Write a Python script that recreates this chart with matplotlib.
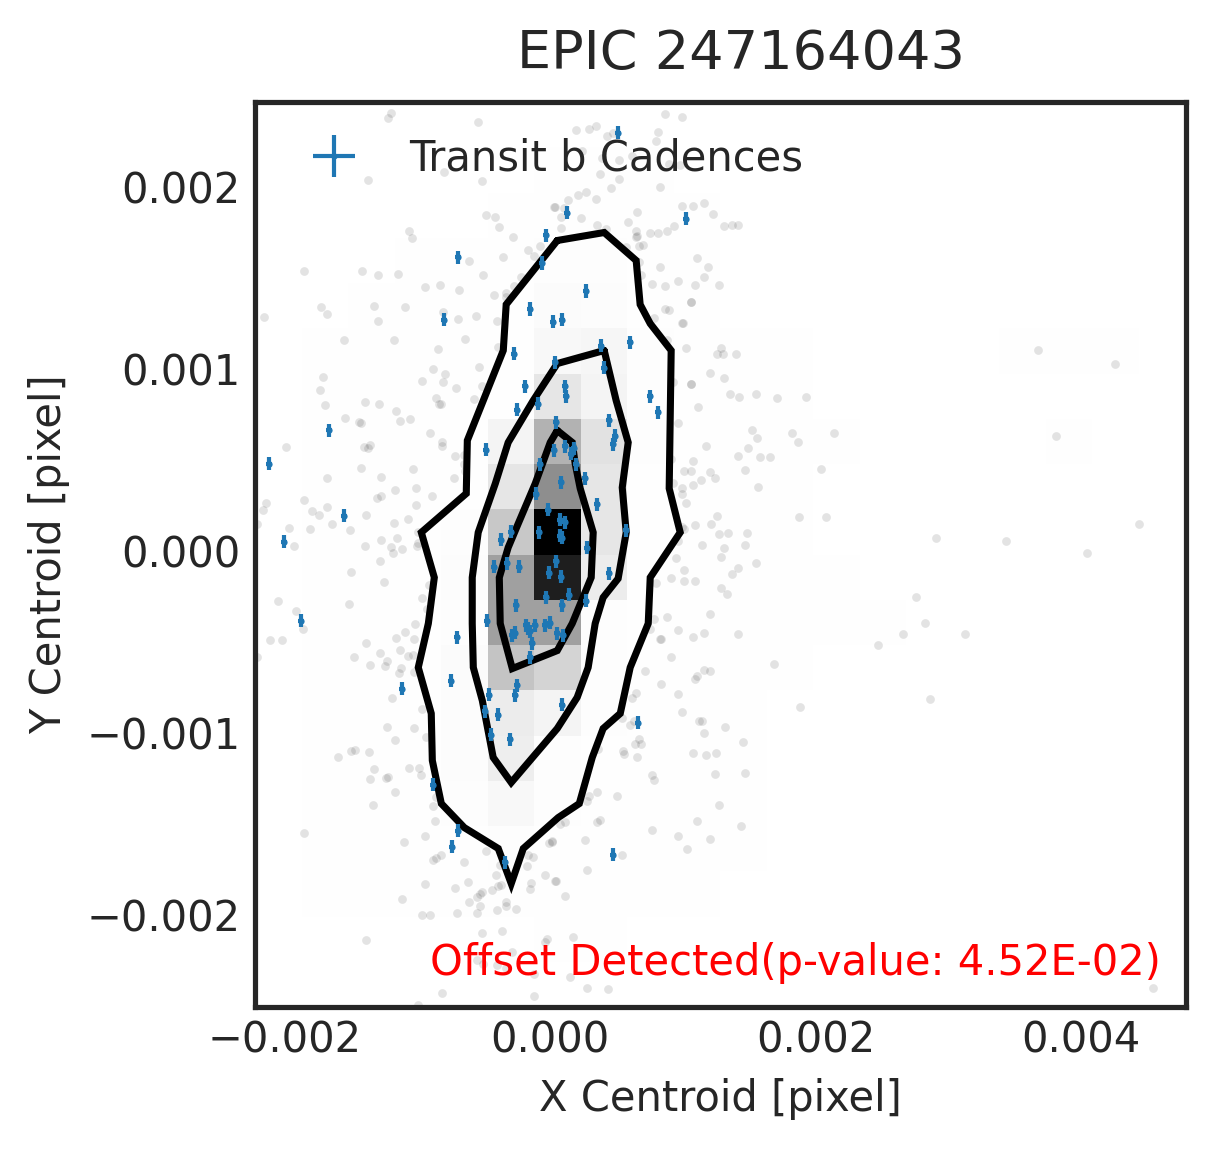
import numpy as np
import matplotlib
matplotlib.use('Agg')
import matplotlib.pyplot as plt
from matplotlib.transforms import ScaledTranslation
import seaborn as sns

# all centroid values below are in units of 1e-3 pixel
title = 'EPIC 247164043'
note = 'Offset Detected(p-value: 4.52E-02)'

# out of transit cadences outside the outer contour
background = [
    (-1.198,2.422),(-1.226,2.397),(-0.547,2.375),(-1.376,2.056),(-0.804,2.100),(-0.515,2.050),(-0.487,1.863),(-0.419,1.852),
    (-0.389,1.797),(-1.067,1.775),(-1.045,1.736),(-0.284,1.742),(-0.075,1.694),(-0.171,1.670),(-0.125,1.637),(-0.359,1.632),
    (-0.615,1.610),(-1.859,1.555),(-1.422,1.555),(-1.301,1.533),(-1.150,1.538),(-0.510,1.533),(-0.223,1.522),(-0.947,1.467),
    (-0.834,1.478),(-0.691,1.450),(-0.276,1.472),(-0.427,1.423),(-0.336,1.432),(-0.336,1.410),(-1.731,1.357),(-1.685,1.318),
    (-1.331,1.362),(-1.098,1.357),(-2.160,1.302),(-0.811,1.329),(-0.698,1.291),(-0.563,1.307),(-1.301,1.280),(-0.404,1.280),
    (-1.557,1.175),(-1.181,1.175),(-0.645,1.181),(-0.849,1.126),(-0.397,1.137),(-1.716,0.972),(-0.887,1.016),(-0.796,0.988),
    (-0.540,1.027),(-0.967,0.950),(-0.811,0.944),(-1.738,0.900),(-0.713,0.911),(-0.515,0.922),(-0.864,0.856),(-0.578,0.851),
    (0.025,1.907),
    (0.862,2.419),(0.997,2.402),(0.198,2.331),(0.289,2.336),(0.342,2.353),(0.425,2.298),(0.470,2.314),(0.816,2.320),
    (0.801,2.270),(0.241,2.215),(0.387,2.177),(0.515,2.166),(0.620,2.188),(0.899,2.144),(0.982,2.138),(0.379,2.089),
    (0.515,2.061),(0.455,2.011),(0.824,2.017),(0.266,1.989),(0.206,1.973),(0.131,1.945),(0.342,1.951),(0.038,1.907),
    (0.106,1.901),(0.078,1.852),(0.229,1.846),(0.651,1.879),(0.997,1.912),(1.073,1.912),(1.156,1.929),(1.231,1.868),
    (0.590,1.824),(0.349,1.808),(0.417,1.786),(0.085,1.791),(0.643,1.775),(0.937,1.802),(0.877,1.775),(0.816,1.764),
    (0.756,1.764),(1.314,1.802),(1.374,1.808),(1.419,1.808),(0.658,1.747),(0.643,1.742),(0.696,1.698),(0.673,1.692),
    (0.568,1.687),(1.103,1.626),(1.193,1.577),(0.831,1.577),(0.673,1.604),(0.688,1.533),(1.163,1.522),(0.967,1.500),
    (0.764,1.483),(0.862,1.472),(1.088,1.478),(1.269,1.478),(1.065,1.381),(1.058,1.384),(0.869,1.346),(0.892,1.340),
    (0.786,1.296),(0.997,1.269),(1.002,1.269),(0.877,1.175),(1.027,1.131),(1.284,1.131),(1.261,1.098),(1.299,1.098),
    (1.404,1.098),(1.201,0.994),(1.314,0.966),(0.929,0.944),(1.058,0.931),(1.065,0.931),(1.359,0.878),(1.427,0.862),
    (1.555,0.878),(1.713,0.856),(1.932,0.862),
    (-1.701,0.818),(-1.399,0.833),(-1.294,0.823),(-1.165,0.785),(-0.841,0.823),(-0.826,0.823),(-1.550,0.746),(-1.444,0.724),
    (-1.429,0.719),(-1.135,0.730),(-1.060,0.741),(-0.909,0.664),(-0.819,0.614),(-0.819,0.592),(-1.994,0.587),(-1.407,0.587),
    (-1.376,0.581),(-1.361,0.598),(-0.721,0.537),(-0.653,0.543),(-0.653,0.493),(-0.645,0.455),(-1.429,0.471),(-1.037,0.466),
    (-1.685,0.416),(-1.279,0.422),(-0.728,0.416),(-1.173,0.350),(-1.015,0.361),(-1.309,0.306),(-1.279,0.317),(-0.894,0.317),
    (-2.145,0.279),(-1.859,0.295),(-1.015,0.268),(-1.685,0.257),(-2.168,0.240),(-1.798,0.235),(-1.746,0.213),(-1.392,0.213),
    (-1.075,0.191),(-1.181,0.169),(-1.648,0.163),(-2.210,0.163),(-1.972,0.141),(-1.814,0.136),(-1.512,0.130),(-1.000,0.119),
    (-1.279,0.075),(-1.158,0.086),(-1.934,0.042),(-1.399,0.042),(-1.203,0.037),(-1.120,0.026),(-1.188,0.004),(-1.000,0.059),
    (-1.007,0.042),(-1.286,-0.040),(-1.505,-0.101),(-1.256,-0.156),(-0.917,-0.172),(-0.967,-0.244),(-2.055,-0.260),(-1.520,-0.277),
    (-1.919,-0.315),(-0.932,-0.304),(-1.022,-0.387),(-1.866,-0.414),(-1.098,-0.431),(-2.115,-0.475),(-2.025,-0.475),(-1.165,-0.464),
    (-1.030,-0.470),(-1.392,-0.492),(-1.135,-0.530),(-1.286,-0.547),(-1.075,-0.563),(-1.037,-0.558),(-1.482,-0.569),(-2.210,-0.569),
    (-1.233,-0.591),(-1.361,-0.613),(-1.248,-0.618),(-1.128,-0.629),(-1.143,-0.657),(-1.030,-0.651),(-1.196,-0.794),
    (1.118,0.807),(0.960,0.719),(1.525,0.680),(1.562,0.636),(1.826,0.664),(1.871,0.614),(2.143,0.664),(1.178,0.592),
    (1.495,0.581),(1.419,0.537),(1.578,0.532),(1.660,0.532),(0.914,0.521),(1.080,0.510),(1.465,0.460),(2.045,0.466),
    (1.005,0.455),(1.065,0.455),(1.208,0.449),(1.246,0.416),(1.140,0.405),(1.073,0.378),(0.929,0.389),(0.997,0.361),
    (1.570,0.367),(0.997,0.328),(1.027,0.279),(1.261,0.207),(1.879,0.202),(2.082,0.202),(1.216,0.163),(1.088,0.158),
    (0.990,0.147),(1.012,0.136),(1.269,0.108),(1.344,0.114),(1.480,0.114),(0.967,0.070),(1.148,0.048),(1.465,0.048),
    (1.314,0.031),(1.291,-0.018),(0.945,-0.024),(1.555,-0.051),(1.012,-0.090),(1.419,-0.079),(1.367,-0.112),(0.914,-0.134),
    (0.801,-0.162),(1.012,-0.151),(1.095,-0.151),(1.291,-0.189),(1.336,-0.222),(1.201,-0.332),(0.884,-0.349),(0.786,-0.360),
    (0.960,-0.420),(0.749,-0.414),(1.156,-0.437),(1.080,-0.459),(1.419,-0.442),(0.824,-0.470),(0.839,-0.470),(0.907,-0.569),
    (1.691,-0.607),(0.711,-0.646),(1.156,-0.640),(1.201,-0.646),(1.110,-0.673),(1.088,-0.690),(0.839,-0.717),(0.643,-0.767),
    (0.967,-0.772),(0.620,-0.794),
    (-0.967,-0.855),(-1.233,-0.954),(-1.030,-0.959),(-0.939,-1.009),(-1.173,-1.025),(-1.603,-1.119),(-1.505,-1.086),(-1.474,-1.080),
    (-1.369,-1.091),(-1.331,-1.185),(-1.067,-1.179),(-0.992,-1.179),(-0.977,-1.218),(-1.361,-1.240),(-1.241,-1.234),(-1.226,-1.229),
    (-1.173,-1.311),(-1.339,-1.383),(-0.887,-1.388),(-0.864,-1.339),(-0.872,-1.471),(-1.859,-1.537),(-0.947,-1.553),(-1.105,-1.586),
    (-0.887,-1.686),(-0.864,-1.674),(-0.826,-1.658),(-0.487,-1.636),(-0.653,-1.696),(-0.382,-1.713),(-0.178,-1.718),(-0.012,-1.592),
    (0.010,-1.581),(-0.171,-1.658),(-0.133,-1.669),(-0.412,-1.768),(-0.043,-1.768),(0.033,-1.801),(-0.148,-1.812),(-0.947,-1.818),
    (-0.721,-1.840),(-0.623,-1.806),(-0.442,-1.851),(-0.397,-1.829),(-0.374,-1.823),(-0.156,-1.845),(-0.517,-1.862),(-0.532,-1.873),
    (-0.555,-1.889),(-1.120,-1.900),(-0.615,-1.917),(-0.337,-1.917),(-0.337,-1.939),(-0.532,-1.939),(-0.404,-1.961),(-0.261,-1.955),
    (-0.555,-1.977),(-0.706,-1.977),(-0.970,-1.988),(-0.909,-1.988),(-0.517,-2.087),(-0.367,-2.076),(-1.392,-2.126),(-0.027,-2.120),
    (-0.043,-2.137),(-0.291,-2.192),(-0.555,-2.236),(-0.510,-2.258),(-0.404,-2.263),(-0.337,-2.280),(-0.125,-2.313),(-0.819,-2.417),
    (-0.125,-2.434),(-1.000,-2.483),
    (0.990,-0.871),(1.125,-0.921),(1.148,-0.921),(1.321,-0.954),(1.887,-0.844),(1.163,-0.987),(0.598,-0.943),(0.628,-0.921),
    (0.538,-0.904),(1.457,-1.036),(0.666,-1.020),(0.636,-1.047),(0.688,-1.047),(1.073,-1.097),(1.171,-1.108),(1.253,-1.097),
    (0.545,-1.086),(0.560,-1.102),(0.651,-1.119),(0.364,-1.075),(1.472,-1.207),(1.246,-1.212),(0.771,-1.218),(0.786,-1.245),
    (0.349,-1.311),(0.289,-1.333),(0.274,-1.361),(0.507,-1.333),(1.276,-1.383),(0.349,-1.476),(0.372,-1.465),(1.103,-1.471),
    (1.442,-1.498),(0.108,-1.476),(0.070,-1.487),(0.771,-1.520),(0.960,-1.553),(1.201,-1.570),(0.259,-1.575),(0.010,-1.586),
    (1.035,-1.625),(0.538,-1.658),(0.281,-1.740),(0.040,-1.801),(0.108,-1.883),(0.168,-2.109),(0.146,-2.329),(0.281,-2.390),
    (0.432,-2.395),
    (3.678,1.122),(4.260,1.044),(3.816,0.647),(2.912,0.086),(3.439,0.070),(4.049,0.004),(4.441,0.163),(2.761,-0.238),
    (2.829,-0.381),(2.663,-0.442),(3.130,-0.442),(2.475,-0.503),(2.866,-0.800),(4.544,-2.393),
]

# cadences during transit b
transit = [
    (0.512,2.316),(0.128,1.876),(1.025,1.843),(-0.030,1.750),(-0.060,1.596),(-0.693,1.629),(0.271,1.442),(-0.799,1.287),
    (-0.151,1.343),(0.023,1.276),(0.090,1.287),(0.384,1.144),(0.603,1.161),(-0.271,1.100),(0.038,1.051),(0.407,1.023),
    (-0.188,0.919),(0.113,0.919),(0.121,0.864),(0.754,0.864),(-0.090,0.825),(-0.249,0.792),(0.814,0.776),(0.045,0.721),
    (0.445,0.732),(0.490,0.649),(0.475,0.600),(-0.482,0.572),(0.030,0.567),(0.113,0.589),(0.158,0.550),(0.181,0.578),
    (0.196,0.490),(-0.075,0.490),(0.264,0.413),(0.083,0.391),(-0.106,0.330),(0.354,0.270),(-0.015,0.242),(0.075,0.187),
    (0.113,0.171),(-0.083,0.116),(-0.294,0.121),(-0.369,0.077),(0.075,0.099),(0.090,0.088),(0.573,0.127),(0.279,0.033),
    (-0.422,-0.072),(-0.324,-0.055),(-0.234,-0.072),(0.045,-0.044),(-0.008,-0.105),(0.083,-0.127),(0.445,-0.110),(-0.030,-0.242),
    (0.143,-0.226),(0.271,-0.259),(-0.256,-0.286),(0.090,-0.286),(-0.475,-0.369),(-0.181,-0.396),(-0.166,-0.413),(-0.151,-0.429),
    (-0.113,-0.396),(-0.038,-0.396),(0.000,-0.380),(0.053,-0.440),(0.098,-0.451),(-0.286,-0.451),(-0.264,-0.435),(-0.136,-0.495),
    (-0.151,-0.572),(-0.701,-0.462),(-0.746,-0.699),(-0.249,-0.726),(-0.264,-0.781),(-0.460,-0.776),(-0.490,-0.869),(-0.392,-0.886),
    (0.090,-0.831),(-0.445,-0.996),(-0.301,-1.023),(-0.882,-1.271),(-0.693,-1.524),(-0.739,-1.612),(-0.339,-1.700),(0.663,-0.930),
    (0.475,-1.656),(-1.115,-0.743),(-1.665,0.677),(-2.118,0.495),(-1.552,0.209),(-2.005,0.066),(-1.876,-0.369),
]
x_err = 0.023
y_err = 0.038

contour_outer = [
    (0.053,1.722),(0.407,1.766),(0.648,1.612),(0.678,1.370),(0.754,1.265),(0.912,1.117),(0.897,0.358),(0.980,0.116),
    (0.754,-0.132),(0.739,-0.385),(0.603,-0.627),(0.528,-0.880),(0.399,-0.963),(0.317,-1.122),(0.219,-1.376),(0.060,-1.453),
    (-0.203,-1.623),(-0.294,-1.816),(-0.392,-1.623),(-0.648,-1.508),(-0.821,-1.376),(-0.889,-1.139),(-0.897,-0.880),(-0.995,-0.627),
    (-0.919,-0.385),(-0.874,-0.132),(-0.972,0.116),(-0.633,0.330),(-0.625,0.622),(-0.354,1.117),(-0.332,1.370),(0.053,1.722),
]
contour_middle = [
    (0.407,1.117),(0.053,1.045),(-0.128,0.842),(-0.317,0.611),(-0.414,0.385),(-0.543,0.116),(-0.588,-0.132),(-0.588,-0.385),
    (-0.580,-0.627),(-0.512,-0.809),(-0.430,-1.122),(-0.294,-1.260),(0.053,-0.963),(0.203,-0.792),(0.286,-0.627),(0.339,-0.385),
    (0.399,-0.242),(0.512,-0.138),(0.573,0.116),(0.543,0.363),(0.588,0.611),(0.497,0.842),(0.407,1.117),
]
contour_inner = [
    (0.053,0.677),(0.166,0.611),(0.188,0.495),(0.226,0.358),(0.324,0.116),(0.309,-0.132),(0.166,-0.385),(0.053,-0.534),
    (-0.286,-0.633),(-0.377,-0.385),(-0.384,-0.132),(-0.317,0.033),(-0.241,0.165),(-0.113,0.385),(0.000,0.611),(0.053,0.677),
]

# 2d histogram, 20x20 bins over the axes range, bottom row first, darkness 0-255
density = [
    [0,0,0,0,0,0,0,0,0,0,0,0,0,0,0,0,0,0,0,0],
    [0,0,0,0,0,0,1,1,0,0,0,0,0,0,0,0,0,0,0,0],
    [0,1,1,1,1,1,1,1,1,1,0,0,0,0,0,0,0,0,0,0],
    [0,1,1,1,1,2,1,1,1,1,1,0,0,0,0,0,0,0,0,0],
    [0,1,1,1,2,7,2,1,1,1,1,0,0,0,0,0,0,0,0,0],
    [0,1,1,1,3,17,2,1,1,1,1,0,0,0,0,0,0,0,0,0],
    [0,1,1,1,3,19,11,2,1,1,1,0,0,0,0,0,0,0,0,0],
    [0,1,1,1,4,59,43,2,1,1,1,1,0,0,0,0,0,0,0,0],
    [0,1,1,1,2,95,95,2,1,1,1,1,1,1,0,0,0,0,0,0],
    [0,1,1,1,3,95,225,19,1,1,1,1,1,0,0,0,0,0,0,0],
    [0,1,1,1,2,55,255,25,1,1,1,1,0,0,0,0,0,0,0,0],
    [0,1,1,1,1,25,113,25,1,1,1,1,0,0,0,0,0,0,0,0],
    [0,1,1,1,1,11,77,29,2,1,1,1,1,0,0,0,0,1,0,0],
    [0,1,1,1,1,1,25,11,2,1,1,1,0,0,0,0,0,0,0,0],
    [0,1,1,1,1,1,7,9,2,1,1,1,0,0,0,0,1,1,1,0],
    [0,0,1,1,1,1,4,3,1,1,0,0,0,0,0,0,0,0,0,0],
    [0,0,0,1,1,1,2,2,1,1,0,0,0,0,0,0,0,0,0,0],
    [0,0,0,0,0,1,1,1,1,1,0,0,0,0,0,0,0,0,0,0],
    [0,0,0,0,0,0,1,1,1,0,0,0,0,0,0,0,0,0,0,0],
    [0,0,0,0,0,0,0,0,0,0,0,0,0,0,0,0,0,0,0,0],
]

x_limits = (-2.226, 4.790)
y_limits = (-2.495, 2.484)
x_ticks = [-0.002, 0.000, 0.002, 0.004]
y_ticks = [-0.002, -0.001, 0.000, 0.001, 0.002]

sns.set_style('white')

fig = plt.figure(figsize=(4.05, 3.83), dpi=300)
ax = fig.add_axes([255 / 1215, 1 - 1007 / 1149, 930.5 / 1215, 905 / 1149])

x_edges = np.linspace(x_limits[0], x_limits[1], 21) * 1e-3
y_edges = np.linspace(y_limits[0], y_limits[1], 21) * 1e-3
ax.pcolormesh(x_edges, y_edges, np.array(density), cmap='gray_r', vmin=0, vmax=255, zorder=1)

bg = np.array(background) * 1e-3
ax.plot(bg[:, 0], bg[:, 1], 'o', ms=2.1, mew=0, color='k', alpha=0.11, zorder=2)

for path in (contour_outer, contour_middle, contour_inner):
    line = np.array(path) * 1e-3
    ax.plot(line[:, 0], line[:, 1], color='k', lw=1.7, solid_joinstyle='miter', zorder=3)

tr = np.array(transit) * 1e-3
ax.errorbar(tr[:, 0], tr[:, 1], xerr=x_err * 1e-3, yerr=y_err * 1e-3, fmt='o', ms=1.5, mew=0,
            color='C0', elinewidth=1, label='Transit b Cadences', zorder=4)

ax.set_xlim(x_limits[0] * 1e-3, x_limits[1] * 1e-3)
ax.set_ylim(y_limits[0] * 1e-3, y_limits[1] * 1e-3)
ax.set_xticks(x_ticks)
ax.set_yticks(y_ticks)
ax.set_xticklabels(['\u22120.002', '0.000', '0.002', '0.004'])
ax.set_yticklabels(['\u22120.002', '\u22120.001', '0.000', '0.001', '0.002'])
ax.tick_params(labelsize=10, length=0)
ax.tick_params(axis='x', pad=3.0)
ax.set_xlabel('X Centroid [pixel]', fontsize=10)
ax.set_ylabel('Y Centroid [pixel]', fontsize=10)
ax.set_title(title, fontsize=13, x=0.522, pad=7.8)
ax.legend(loc='upper left', fontsize=10, frameon=False, bbox_to_anchor=(0, 1.002), borderaxespad=0.5)
ax.text(0.974, 0.035, note, color='red', fontsize=10, ha='right', transform=ax.transAxes, zorder=5)

# labels sit a touch higher than the default centring
shift = ScaledTranslation(0, 2.5 / 300, fig.dpi_scale_trans)
for label in ax.get_yticklabels():
    label.set_transform(label.get_transform() + shift)

for spine in ax.spines.values():
    spine.set_linewidth(1.25)
    spine.set_color('.15')

fig.savefig('out.png', dpi=300)
